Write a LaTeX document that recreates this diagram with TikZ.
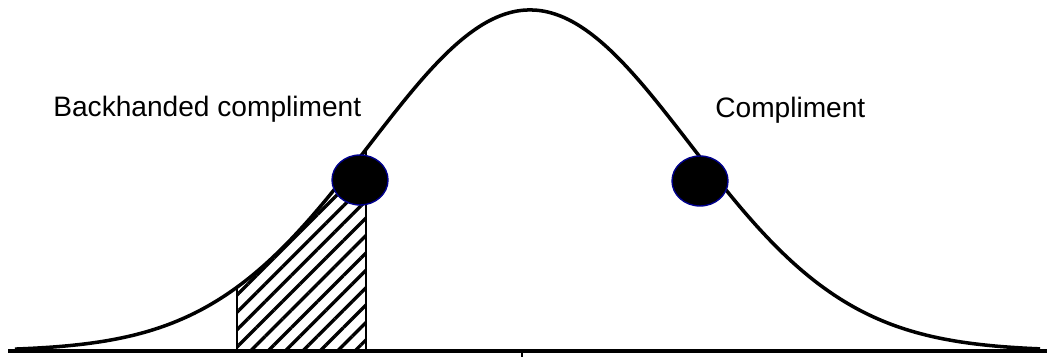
\documentclass[tikz,border=0pt]{standalone}
\usepackage{fontspec}
\setmainfont{Liberation Sans}
\usetikzlibrary{patterns.meta, shapes.geometric}

\begin{document}
\begin{tikzpicture}[x=0.02cm, y=0.02cm, font=\fontsize{16}{19}\selectfont,
  declare function={g(\t)=7+341*exp(-0.5*((\t-530)/160)^2);},
  bell/.style={line width=2pt, line join=round},
  spot/.style={ellipse, fill=black, draw=blue!55!black, line width=0.8pt, minimum width=1.12cm, minimum height=1cm, inner sep=0pt},
  lbl/.style={anchor=base west, inner sep=0pt}]
  \useasboundingbox (0,0) rectangle (1047,358);

  % shaded tail
  \fill[pattern={Lines[angle=45, distance=7pt, line width=1.9pt]}] (237,7) -- plot[domain=237:366, samples=40] (\x,{g(\x)}) -- (366,7) -- cycle;
  \draw[line width=1.1pt] (237,7) -- (237,{g(237)}); \draw[line width=1.4pt] (366,7) -- (366,{g(366)});

  % curve and axis
  \draw[bell] plot[domain=15:1040, samples=150, smooth] (\x,{g(\x)});
  \draw[line width=2.4pt] (8,7) -- (1047,7); \draw[line width=1.5pt] (522,7) -- (522,1);

  \node[spot] (bdot) at (360,178) {}; \node[spot] (cdot) at (700,177) {};
  \node[lbl] (blbl) at (53,241) {Backhanded compliment}; \node[lbl] (clbl) at (715,240) {Compliment};
\end{tikzpicture}
\end{document}
